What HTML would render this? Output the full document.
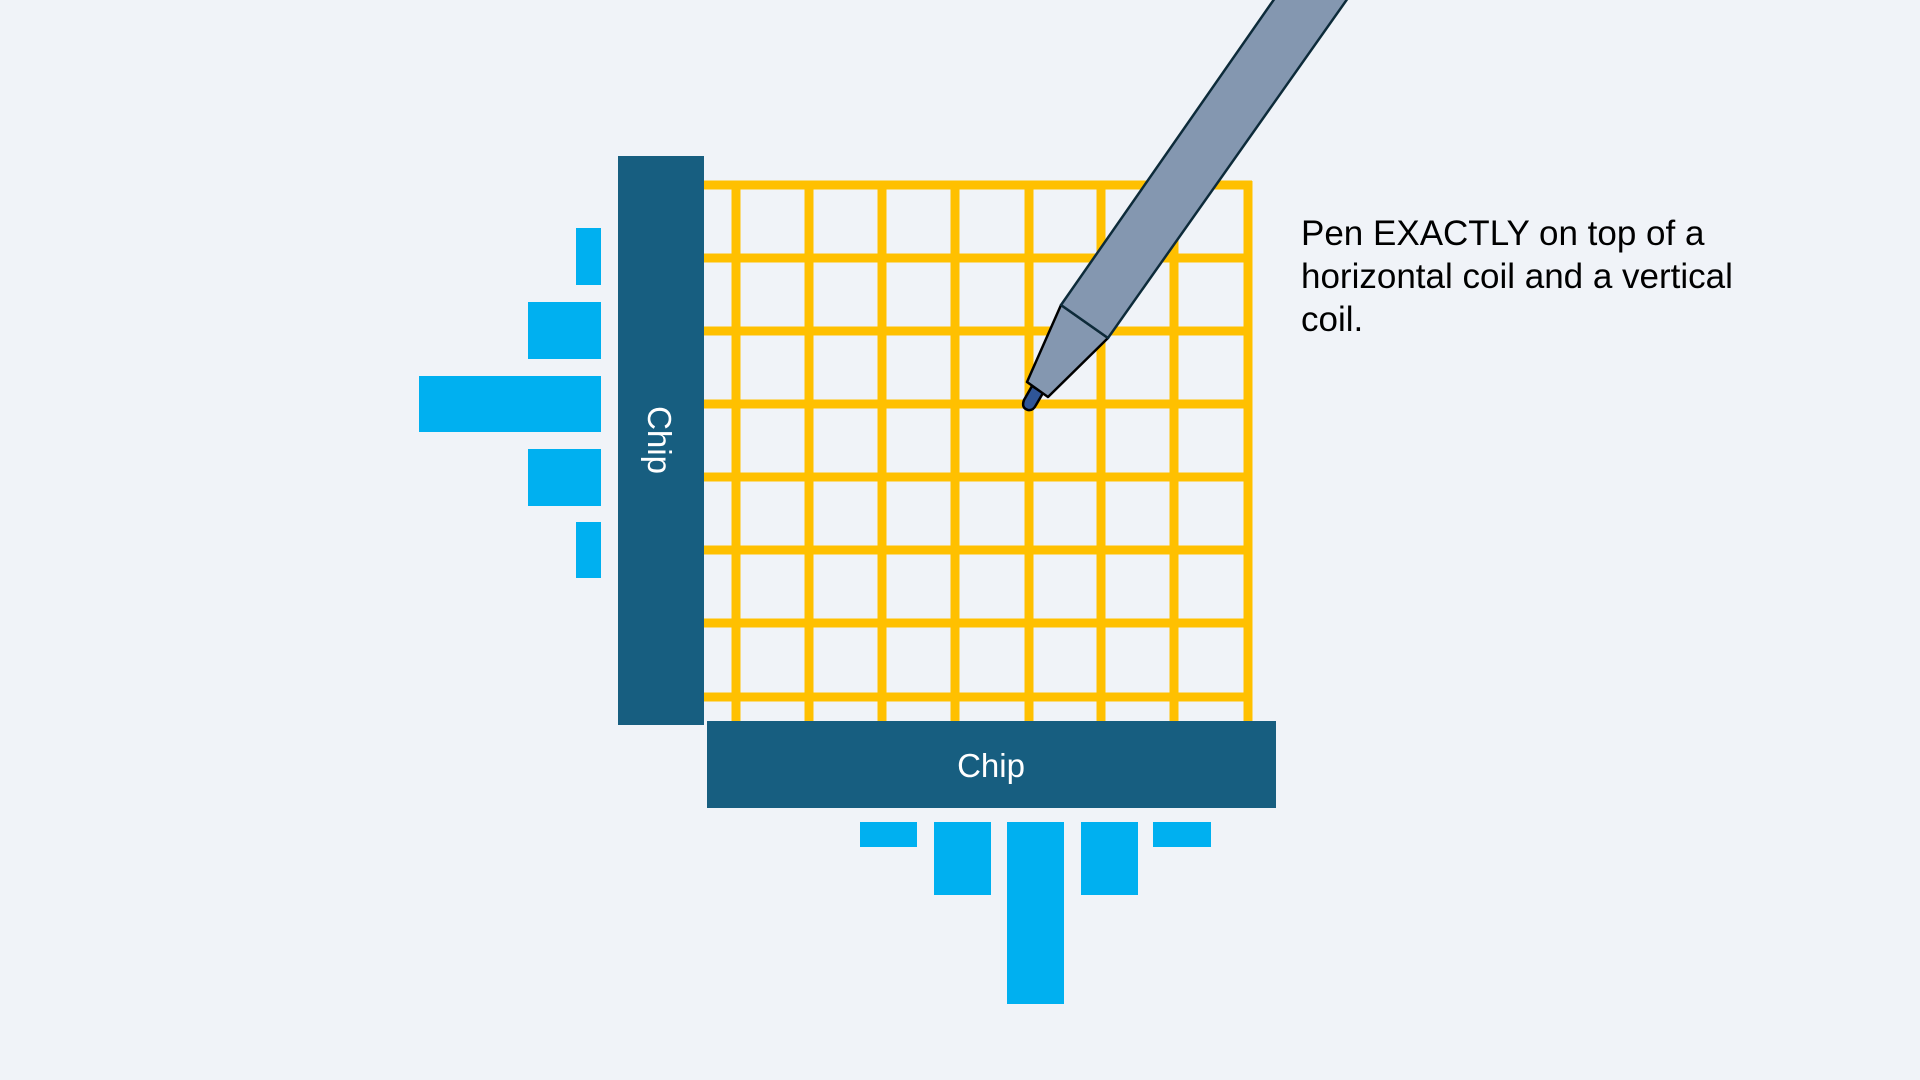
<!DOCTYPE html>
<html><head><meta charset="utf-8"><style>
html,body{margin:0;padding:0;background:#f0f3f8;}
svg{display:block}
</style></head><body>
<svg width="1920" height="1080" viewBox="0 0 1920 1080" xmlns="http://www.w3.org/2000/svg">
<rect width="1920" height="1080" fill="#f0f3f8"/>
<g stroke="#ffc000" stroke-width="9">
<line x1="704" y1="185" x2="1252" y2="185"/>
<line x1="704" y1="258" x2="1252" y2="258"/>
<line x1="704" y1="331" x2="1252" y2="331"/>
<line x1="704" y1="404" x2="1252" y2="404"/>
<line x1="704" y1="477" x2="1252" y2="477"/>
<line x1="704" y1="550" x2="1252" y2="550"/>
<line x1="704" y1="623" x2="1252" y2="623"/>
<line x1="704" y1="697" x2="1252" y2="697"/>
<line x1="736" y1="181" x2="736" y2="722"/>
<line x1="809" y1="181" x2="809" y2="722"/>
<line x1="882" y1="181" x2="882" y2="722"/>
<line x1="955" y1="181" x2="955" y2="722"/>
<line x1="1029" y1="181" x2="1029" y2="722"/>
<line x1="1101" y1="181" x2="1101" y2="722"/>
<line x1="1174" y1="181" x2="1174" y2="722"/>
<line x1="1248" y1="181" x2="1248" y2="722"/>
</g>
<rect x="618" y="156" width="86" height="569" fill="#175e80"/>
<rect x="707" y="721" width="569" height="87" fill="#175e80"/>
<text x="0" y="0" transform="translate(648,440) rotate(90)" text-anchor="middle" font-family="Liberation Sans, sans-serif" font-size="33" fill="#fff">Chip</text>
<text x="991" y="777" text-anchor="middle" font-family="Liberation Sans, sans-serif" font-size="33" fill="#fff">Chip</text>
<g fill="#00b0f0">
<rect x="576" y="228" width="25" height="57"/>
<rect x="528" y="302" width="73" height="57"/>
<rect x="419" y="376" width="182" height="56"/>
<rect x="528" y="449" width="73" height="57"/>
<rect x="576" y="522" width="25" height="56"/>
<rect x="860" y="822" width="57" height="25"/>
<rect x="934" y="822" width="57" height="73"/>
<rect x="1007" y="822" width="57" height="182"/>
<rect x="1081" y="822" width="57" height="73"/>
<rect x="1153" y="822" width="58" height="25"/>
</g>
<path d="M1032,386 L1024,400 Q1021,408 1028,410 Q1033,411 1036,405 L1043,393 Z" fill="#2f5597" stroke="#000" stroke-width="2.5" stroke-linejoin="round"/>
<polygon points="1061,305 1108,338 1048,397 1027,382" fill="#8497b0" stroke="#000" stroke-width="2.5" stroke-linejoin="round"/>
<polygon points="1275,-2 1348,-2 1108,338 1061,305" fill="#8497b0" stroke="#0d2b3a" stroke-width="2.5" stroke-linejoin="round"/>
<g font-family="Liberation Sans, sans-serif" font-size="35" fill="#000">
<text x="1301" y="245">Pen EXACTLY on top of a</text>
<text x="1301" y="288">horizontal coil and a vertical</text>
<text x="1301" y="331">coil.</text>
</g>
</svg>
</body></html>
